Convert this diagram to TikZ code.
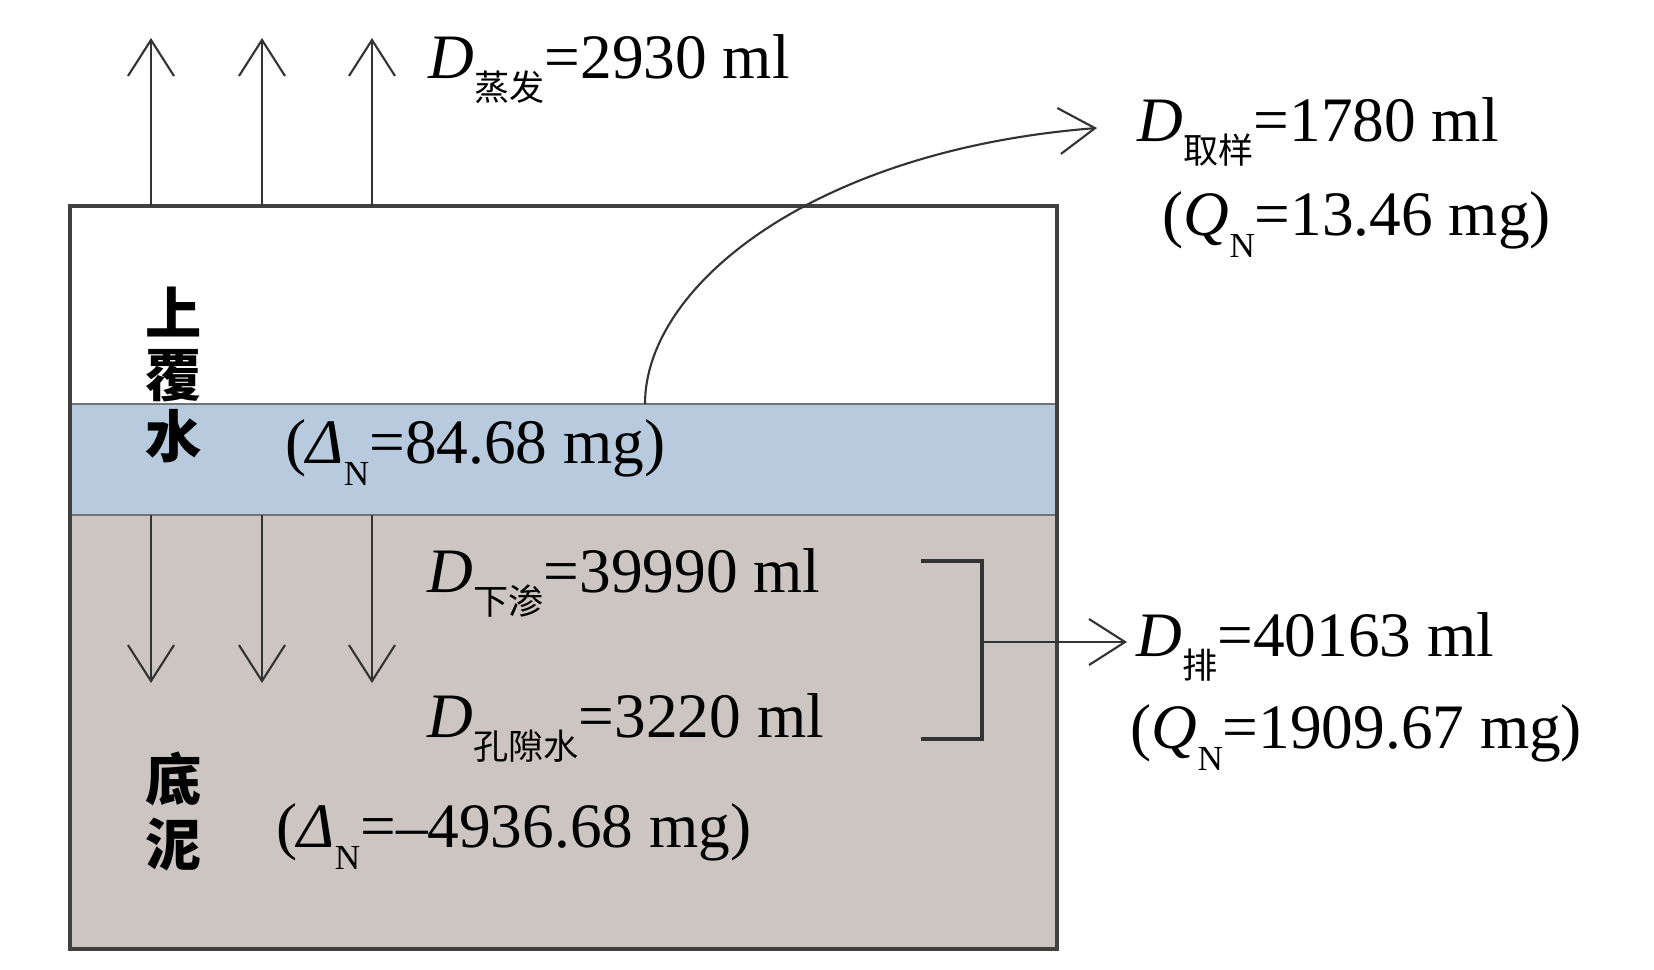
\documentclass[tikz,border=0pt]{standalone}
\usepackage{fontspec}
\setmainfont{Liberation Serif}
\newfontfamily\cjk{Noto Sans CJK SC}
\usepackage{tikz}
\usepackage{xcolor}
\usetikzlibrary{arrows.meta, calc, positioning}

\definecolor{waterblue}{RGB}{184,202,221}
\definecolor{mudgrey}{RGB}{204,197,193}
\newcommand{\mainsize}{\fontsize{18}{20}\selectfont}
\newcommand{\dsub}[3]{\textit{#1}\raisebox{-0.22cm}{\fontsize{10}{10}\selectfont #2}#3}

\tikzset{
    flow/.style={-{Straight Barb[length=3.6mm, width=4.6mm]}, line width=0.6pt, draw=black!80},
    val/.style={anchor=base west, inner sep=0pt, font=\mainsize},
    layername/.style={inner sep=0pt, align=center, font=\cjk\bfseries\fontsize{16}{17.5}\selectfont},
    boxline/.style={draw=black!75, line width=0.9pt}
}

\begin{document}
\begin{tikzpicture}[x=0.01cm, y=-0.01cm]
                        \useasboundingbox (0,0) rectangle (1654,969);

                        % layers of the column
                        \fill[white] (70,206) rectangle (1057,404);
                        \fill[waterblue] (70,404) rectangle (1057,515);
                        \fill[mudgrey] (70,515) rectangle (1057,949);
                        \draw[black!55, line width=0.7pt] (70,404) -- (1057,404) (70,515) -- (1057,515);
                        \draw[boxline] (70,206) rectangle (1057,949);

                        \node[layername] (upper) at (174,375) {上\\覆\\水};
                        \node[layername, font=\cjk\bfseries\fontsize{16}{18.5}\selectfont] (sediment) at (174,811) {底\\泥};

                        \node[val] (evap) at (428,78) {\dsub{D}{\cjk 蒸发}{=2930 ml}};
                        \node[val] (samp) at (1137,141) {\dsub{D}{\cjk 取样}{=1780 ml}};
                        \node[val] (sampq) at (1162,235) {(\dsub{Q}{N}{=13.46 mg)}};
                        \node[val] (dwater) at (285,463) {(\dsub{Δ}{N}{=84.68 mg)}};
                        \node[val] (perc) at (427,592) {\dsub{D}{\cjk 下渗}{=39990 ml}};
                        \node[val] (pore) at (427,737) {\dsub{D}{\cjk 孔隙水}{=3220 ml}};
                        \node[val] (drain) at (1136,656) {\dsub{D}{\cjk 排}{=40163 ml}};
                        \node[val] (drainq) at (1130,748) {(\dsub{Q}{N}{=1909.67 mg)}};
                        \node[val] (dsed) at (276,847) {(\dsub{Δ}{N}{=–4936.68 mg)}};

                        \coordinate (up1) at (151,206);
                        \coordinate (up2) at (262,206);
                        \coordinate (up3) at (372,206);
                        \coordinate (up1t) at (151,38);
                        \coordinate (up2t) at (262,38);
                        \coordinate (up3t) at (372,38);
                        \coordinate (dn1) at (151,515);
                        \coordinate (dn2) at (262,515);
                        \coordinate (dn3) at (372,515);
                        \coordinate (dn1t) at (151,683);
                        \coordinate (dn2t) at (262,683);
                        \coordinate (dn3t) at (372,683);
                        \coordinate (sampfrom) at (645,404);
                        \coordinate (sampto) at (1097,128);
                        \coordinate (brtop) at (921,561);
                        \coordinate (brbot) at (921,739);
                        \coordinate (brmid) at (982,642);
                        \coordinate (drainto) at (1127,642);

                        \draw
                        (up1) edge[flow] (up1t)
                        (up2) edge[flow] (up2t)
                        (up3) edge[flow] (up3t)
                        (dn1) edge[flow] (dn1t)
                        (dn2) edge[flow] (dn2t)
                        (dn3) edge[flow] (dn3t)
                        (brmid) edge[flow] (drainto);

                        \draw[flow] (sampfrom) .. controls (645,285) and (815,150) .. (sampto);
                        \draw[black!80, line width=0.9pt] (brtop) -| (brmid) |- (brbot);
                    \end{tikzpicture}
\end{document}
